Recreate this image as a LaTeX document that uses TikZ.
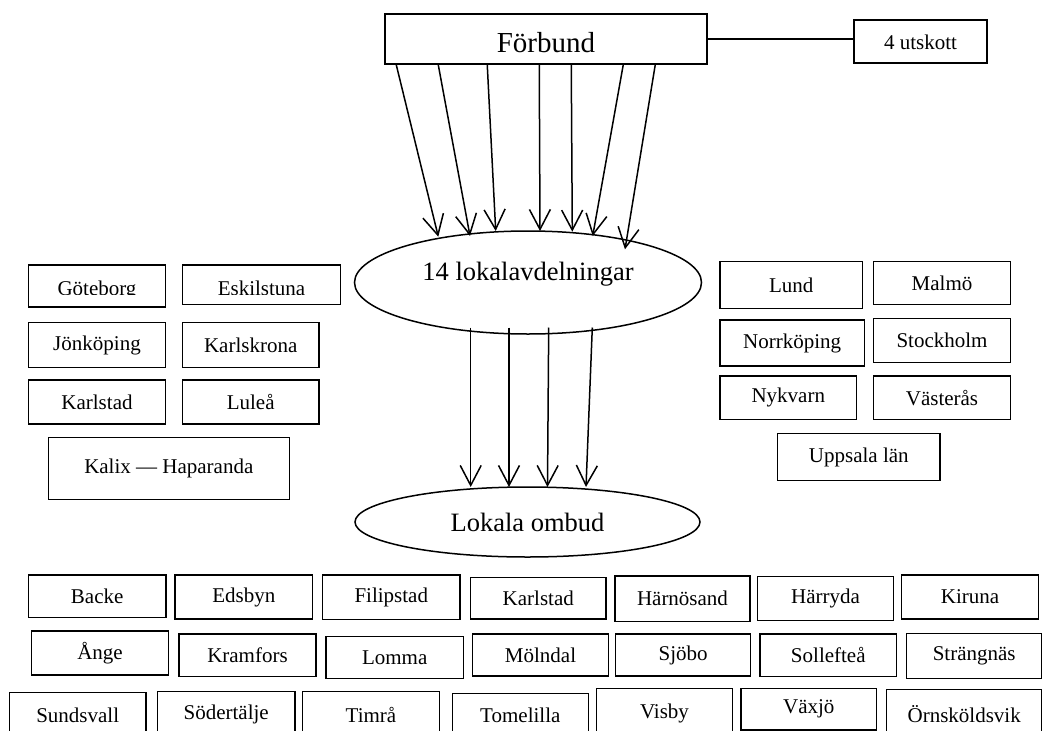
\documentclass[tikz,border=0pt]{standalone}
\usepackage{fontspec}
\setmainfont{Liberation Serif}
\usetikzlibrary{shapes.geometric,arrows.meta,calc}

\tikzset{
  cbox/.style={draw, line width=1.5pt, inner sep=0pt, font=\fontsize{21}{25}\selectfont},
  oval/.style={ellipse, draw, line width=1.5pt, inner sep=0pt},
  arr/.style={line width=1.5pt, -{Straight Barb[length=20pt,width=21pt]}},
  smalltext/.style={inner sep=0pt, anchor=base, font=\fontsize{21}{25}\selectfont},
  bigtext/.style={inner sep=0pt, anchor=base, font=\fontsize{26.5}{30}\selectfont},
}

\begin{document}
\begin{tikzpicture}[x=1pt, y=-1pt]
\useasboundingbox (0,0) rectangle (1047,731);
\clip (0,0) rectangle (1047,731);

% top level
\node[cbox, minimum width=322pt, minimum height=50pt, text height=27pt,
      font=\fontsize{29}{33}\selectfont] (forb) at (546,39) {Förbund};
\node[cbox, minimum width=133pt, minimum height=43pt, text height=16pt] (utsk) at (920.5,41.5) {4 utskott};
\draw[line width=1.5pt] (forb.east) -- (forb.east -| utsk.west);

% ellipses
\node[oval, minimum width=347pt, minimum height=103pt] (lok) at (528,282.5) {};
\node[bigtext] (loktxt) at (528,280) {14 lokalavdelningar};
\node[oval, minimum width=345pt, minimum height=70pt,
      font=\fontsize{26.5}{30}\selectfont] (omb) at (527.5,522) {Lokala ombud};

% arrows from Förbund to the local branches
\foreach \i/\dx/\tx/\ty in {1/12/438.3/236.7, 2/54/470/236, 3/103/495.7/231,
    4/155/540/231, 5/187/572.3/231.7, 6/239/592.7/236, 7/271/625/249.3} {
  \coordinate (fs\i) at ($(forb.south west)+(\dx,0)$);
  \coordinate (ft\i) at (\tx,\ty);
  \draw[arr] (fs\i) -- (ft\i);
}

% arrows from the local branches to the local representatives
\foreach \i/\sx/\tx in {1/470.7/470.7, 2/509/509, 3/548.7/547.5, 4/592.3/586} {
  \coordinate (ls\i) at (\sx,327.5);
  \coordinate (lt\i) at (\tx,487);
  \draw[arr] (ls\i) -- (lt\i);
}

% left group of branches
\node[cbox, minimum width=137.4pt, minimum height=42.3pt] (gbg) at (97,286) {};
\node[cbox, minimum width=158.4pt, minimum height=39.3pt] (esk) at (261.5,284.7) {};
\begin{scope}
  \clip (0,250) rectangle (360,294.3);
  \node[smalltext] (gbgtxt) at (97,295.5) {Göteborg};
  \node[smalltext] (esktxt) at (261.5,295.2) {Eskilstuna};
\end{scope}
\node[cbox, minimum width=137.4pt, minimum height=44.6pt] (jkp) at (97,345) {Jönköping};
\node[cbox, minimum width=136.7pt, minimum height=44.6pt] (krk) at (250.7,345) {Karlskrona};
\node[cbox, minimum width=137.4pt, minimum height=43.7pt] (kst) at (97,401.9) {Karlstad};
\node[cbox, minimum width=136.7pt, minimum height=43.7pt] (lul) at (250.7,401.9) {Luleå};
\node[cbox, minimum width=241pt, minimum height=61.6pt] (kal) at (168.8,468.5) {Kalix — Haparanda};

% right group of branches
\node[cbox, minimum width=142.7pt, minimum height=46.6pt] (lun) at (791.3,285) {Lund};
\node[cbox, minimum width=137.4pt, minimum height=42.6pt] (mal) at (942,283) {Malmö};
\node[cbox, minimum width=144.3pt, minimum height=46pt] (nkp) at (792.2,343) {Norrköping};
\node[cbox, minimum width=137.4pt, minimum height=44pt] (sth) at (942,340.7) {Stockholm};
\node[cbox, minimum width=136.7pt, minimum height=43.3pt] (nyk) at (788.3,397.7) {Nykvarn};
\node[cbox, minimum width=137.4pt, minimum height=43.3pt] (vas) at (942,397.7) {Västerås};
\node[cbox, minimum width=162.3pt, minimum height=47.4pt] (upp) at (858.8,457) {Uppsala län};

% local representatives, first row
\node[cbox, minimum width=137.7pt, minimum height=42.3pt] (bac) at (97.2,596.2) {Backe};
\node[cbox, minimum width=137.7pt, minimum height=44pt] (eds) at (243.8,597) {Edsbyn};
\node[cbox, minimum width=137.3pt, minimum height=44.3pt] (fil) at (391.3,597.2) {Filipstad};
\node[cbox, minimum width=135.3pt, minimum height=41.7pt] (kst2) at (538.3,598.2) {Karlstad};
\node[cbox, minimum width=135pt, minimum height=45.7pt] (hno) at (682.5,598.8) {Härnösand};
\node[cbox, minimum width=135.6pt, minimum height=44pt] (har) at (825.5,598.7) {Härryda};
\node[cbox, minimum width=136.6pt, minimum height=44pt] (kir) at (970,597) {Kiruna};

% second row
\node[cbox, minimum width=136.6pt, minimum height=44.3pt] (ang) at (100,652.9) {Ånge};
\node[cbox, minimum width=137pt, minimum height=42.7pt] (kra) at (247.5,655.3) {Kramfors};
\node[cbox, minimum width=137.3pt, minimum height=41.6pt] (lom) at (394.7,657.5) {Lomma};
\node[cbox, minimum width=135.6pt, minimum height=42pt] (mol) at (540.5,655) {Mölndal};
\node[cbox, minimum width=135pt, minimum height=42pt] (sjo) at (683.2,655) {Sjöbo};
\node[cbox, minimum width=136.7pt, minimum height=42.7pt] (sol) at (828.3,655.3) {Sollefteå};
\node[cbox, minimum width=135pt, minimum height=45pt] (str) at (974.2,655.8) {Strängnäs};

% third row
\node[cbox, minimum width=136.7pt, minimum height=45.3pt] (sun) at (77.7,715.3) {Sundsvall};
\node[cbox, minimum width=137.7pt, minimum height=46.3pt] (sod) at (226.2,714.8) {Södertälje};
\node[cbox, minimum width=136.6pt, minimum height=46.3pt] (tim) at (371,714.8) {Timrå};
\node[cbox, minimum width=136pt, minimum height=44.7pt] (tom) at (520.3,715.7) {Tomelilla};
\node[cbox, minimum width=135.6pt, minimum height=49.7pt] (vis) at (664.5,713.2) {Visby};
\node[cbox, minimum width=135.7pt, minimum height=41.7pt] (vax) at (808.8,709.2) {Växjö};
\node[cbox, minimum width=155pt, minimum height=48.7pt] (orn) at (964.2,713.7) {Örnsköldsvik};
\end{tikzpicture}
\end{document}
